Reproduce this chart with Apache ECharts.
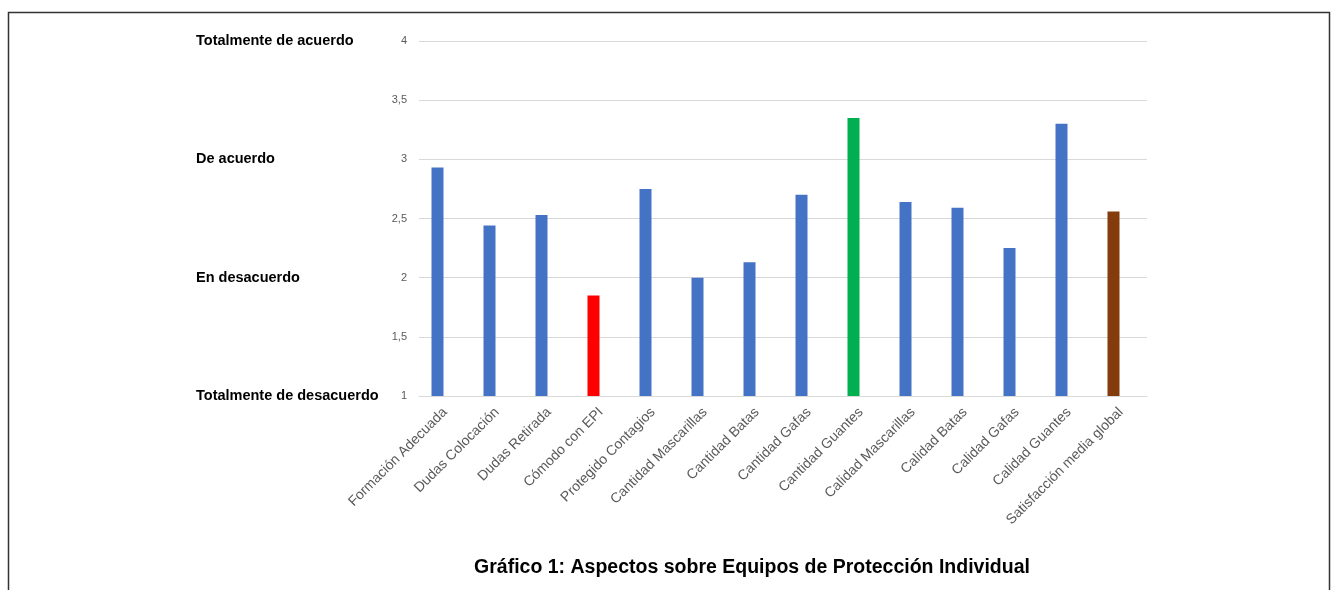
<!DOCTYPE html>
<html>
<head>
<meta charset="utf-8">
<script src="https://cdn.jsdelivr.net/npm/echarts@6/dist/echarts.min.js"></script>
<style>
html,body{margin:0;padding:0;background:#fff;}
#chart{width:1333px;height:590px;}
</style>
</head>
<body>
<div id="chart"></div>
<script>
const categories = ["Formación Adecuada","Dudas Colocación","Dudas Retirada","Cómodo con EPI","Protegido Contagios","Cantidad Mascarillas","Cantidad Batas","Cantidad Gafas","Cantidad Guantes","Calidad Mascarillas","Calidad Batas","Calidad Gafas","Calidad Guantes","Satisfacción media global"];
const values = [2.93,2.44,2.53,1.85,2.75,2.00,2.13,2.70,3.35,2.64,2.59,2.25,3.30,2.56];
const levelLabels = {1:"Totalmente de desacuerdo",2:"En desacuerdo",3:"De acuerdo",4:"Totalmente de acuerdo"};
const titleText = "Gráfico 1: Aspectos sobre Equipos de Protección Individual";

const barColors = ["#4472C4","#4472C4","#4472C4","#FF0000","#4472C4","#4472C4","#4472C4","#4472C4","#00B050","#4472C4","#4472C4","#4472C4","#4472C4","#843C0C"];

const chart = echarts.init(document.getElementById('chart'));
chart.setOption({
  animation:false,
  backgroundColor:'#fff',
  grid:{left:419,right:186,top:41,bottom:194},
  xAxis:{
    type:'category',
    data:categories,
    axisLine:{lineStyle:{color:'#d9d9d9'}},
    axisTick:{show:false},
    axisLabel:{rotate:45,interval:0,color:'#595959',fontFamily:'Liberation Sans',fontSize:14,margin:14}
  },
  yAxis:[{
    type:'value',min:1,max:4,interval:0.5,
    axisLine:{show:false},axisTick:{show:false},
    splitLine:{lineStyle:{color:'#d9d9d9'}},
    axisLabel:{color:'#595959',fontFamily:'Liberation Sans',fontSize:11,margin:12,
      formatter:v=>String(v).replace('.',',')}
  },{
    type:'value',min:1,max:4,interval:1,position:'left',
    axisLine:{show:false},axisTick:{show:false},splitLine:{show:false},
    axisLabel:{align:'left',margin:223,color:'#000',fontFamily:'Liberation Sans',fontWeight:'bold',fontSize:14.5,
      formatter:v=>levelLabels[v]||''}
  }],
  series:[{
    type:'bar',
    yAxisIndex:0,
    barWidth:12,
    barGap:'25%',
    data:values.map((v,i)=>({value:v,itemStyle:{color:barColors[i]}}))
  },{
    type:'bar',
    yAxisIndex:0,
    barWidth:12,
    data:[]
  }],
  graphic:[
    {type:'rect',shape:{x:8.5,y:12.5,width:1321,height:600},style:{fill:null,stroke:'#333',lineWidth:1.5}},
    {type:'text',x:752,y:568,style:{text:titleText,textAlign:'center',textVerticalAlign:'middle',fontFamily:'Liberation Sans',fontWeight:'bold',fontSize:19.5,fill:'#000'}}
  ]
});
</script>
</body>
</html>
